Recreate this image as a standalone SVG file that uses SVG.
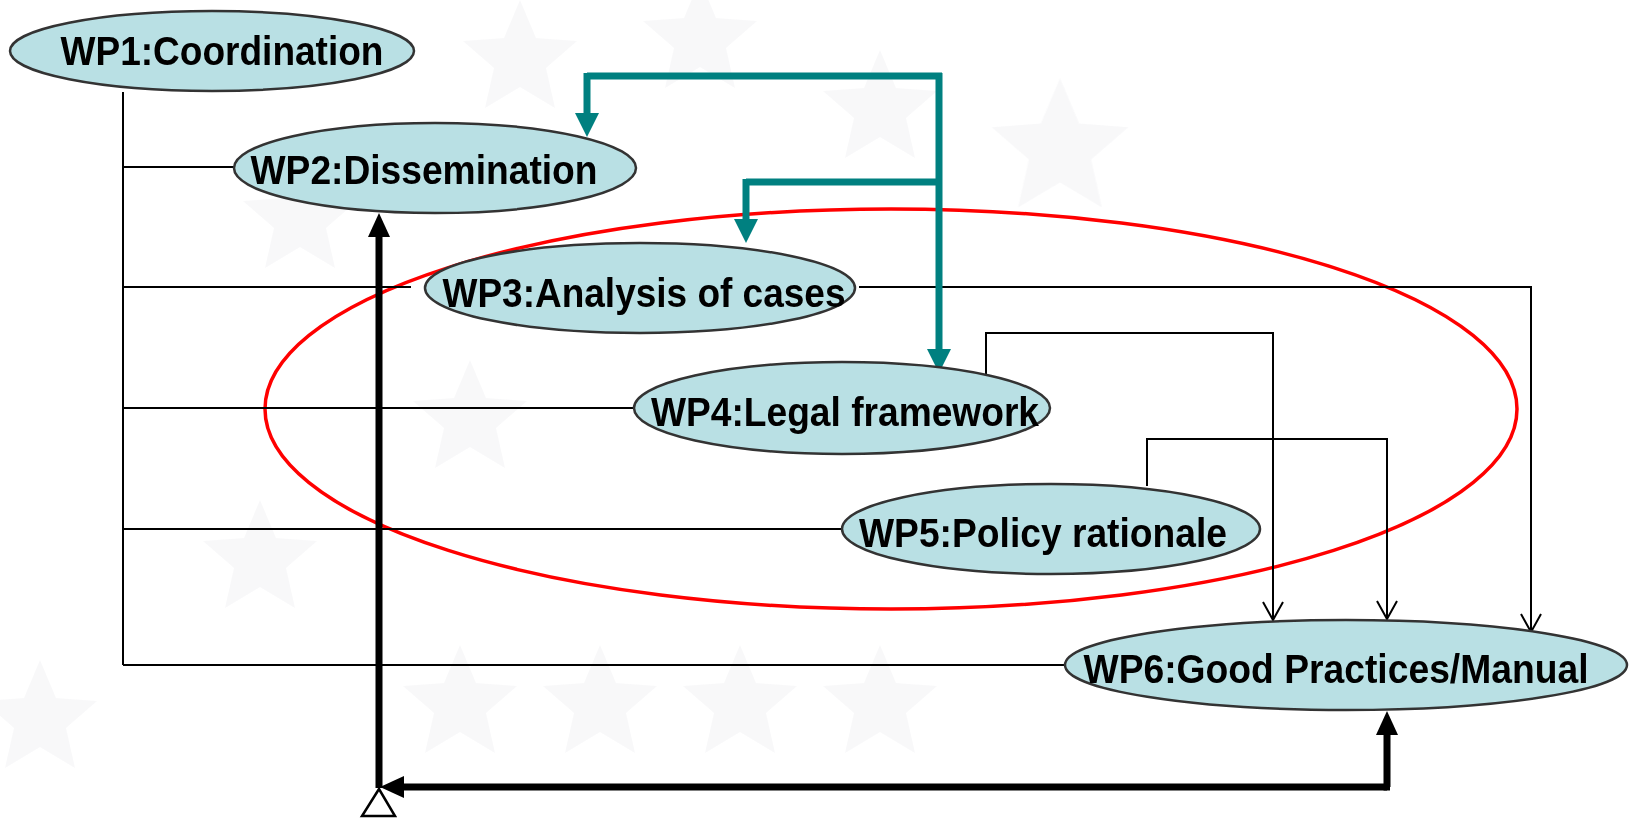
<svg xmlns="http://www.w3.org/2000/svg" width="1633" height="818" viewBox="0 0 1633 818">
  <style>
    .node ellipse { fill: #b9e0e4; stroke: #333333; stroke-width: 2.5; }
    .node text { font-family: "Liberation Sans", Arial, sans-serif; font-weight: bold; font-size: 40px; fill: #000000; text-anchor: middle; }
    .thin { fill: none; stroke: #000000; stroke-width: 2; }
    .thick { fill: none; stroke: #000000; stroke-width: 7; }
    .teal { fill: none; stroke: #008080; stroke-width: 7; }
    .star { fill: #f4f4f6; }
  </style>
  <defs>
    <marker id="openArrow" markerUnits="userSpaceOnUse" markerWidth="22" markerHeight="26" viewBox="-20 -13 22 26" refX="0" refY="0" orient="auto">
      <path d="M-18,-10 L0,0 L-18,10" fill="none" stroke="#000000" stroke-width="2"/>
    </marker>
    <marker id="blackArrow" markerUnits="userSpaceOnUse" markerWidth="26" markerHeight="26" viewBox="0 -13 26 26" refX="0" refY="0" orient="auto">
      <path d="M0,-11 L24,0 L0,11 z" fill="#000000"/>
    </marker>
    <marker id="tealArrow" markerUnits="userSpaceOnUse" markerWidth="26" markerHeight="28" viewBox="0 -14 26 28" refX="0" refY="0" orient="auto">
      <path d="M0,-12 L24,0 L0,12 z" fill="#008080"/>
    </marker>
    <path id="starShape" d="M0,-60 L16,-22 L57,-19 L26,8 L35,48 L0,27 L-35,48 L-26,8 L-57,-19 L-16,-22 z"/>
  </defs>

  <rect x="0" y="0" width="1633" height="818" fill="#ffffff"/>

  <g id="background" opacity="0.6">
    <use href="#starShape" class="star" transform="translate(520,60)"/>
    <use href="#starShape" class="star" transform="translate(700,40)"/>
    <use href="#starShape" class="star" transform="translate(880,110)"/>
    <use href="#starShape" class="star" transform="translate(1060,150) scale(1.2)"/>
    <use href="#starShape" class="star" transform="translate(300,220)"/>
    <use href="#starShape" class="star" transform="translate(470,420)"/>
    <use href="#starShape" class="star" transform="translate(260,560)"/>
    <use href="#starShape" class="star" transform="translate(460,705)"/>
    <use href="#starShape" class="star" transform="translate(600,705)"/>
    <use href="#starShape" class="star" transform="translate(740,705)"/>
    <use href="#starShape" class="star" transform="translate(880,705)"/>
    <use href="#starShape" class="star" transform="translate(40,720)"/>
  </g>

  <g id="region">
    <ellipse cx="891" cy="409" rx="626" ry="200" fill="none" stroke="#ff0000" stroke-width="3.5"/>
  </g>

  <g id="connectors">
    <path class="thin" d="M123,92 V665"/>
    <path class="thin" d="M123,167 H235"/>
    <path class="thin" d="M123,287 H411"/>
    <path class="thin" d="M123,408 H634"/>
    <path class="thin" d="M123,529 H842"/>
    <path class="thin" d="M123,665 H1064"/>
    <path class="thin" d="M859,287 H1531 V632" marker-end="url(#openArrow)"/>
    <path class="thin" d="M986,375 V333 H1273 V620" marker-end="url(#openArrow)"/>
    <path class="thin" d="M1147,486 V439 H1387 V619" marker-end="url(#openArrow)"/>

    <path class="thick" d="M379,788 V237" marker-end="url(#blackArrow)"/>
    <path class="thick" d="M1387,787 H404" marker-end="url(#blackArrow)"/>
    <path class="thick" d="M1390,787 H1387 V735" marker-end="url(#blackArrow)"/>
    <polygon points="379,789 362,816 395,816" fill="#ffffff" stroke="#000000" stroke-width="2.5"/>

    <path class="teal" d="M587,76 H942"/>
    <path class="teal" d="M939,73 V349" marker-end="url(#tealArrow)"/>
    <path class="teal" d="M587,73 V113" marker-end="url(#tealArrow)"/>
    <path class="teal" d="M746,182 H939"/>
    <path class="teal" d="M746,179 V219" marker-end="url(#tealArrow)"/>
  </g>

  <g id="WP1" class="node">
    <ellipse cx="212" cy="51" rx="202" ry="40"/>
    <text x="222" y="65" textLength="323" lengthAdjust="spacingAndGlyphs">WP1:Coordination</text>
  </g>
  <g id="WP2" class="node">
    <ellipse cx="435" cy="168" rx="201" ry="45"/>
    <text x="424" y="184" textLength="347" lengthAdjust="spacingAndGlyphs">WP2:Dissemination</text>
  </g>
  <g id="WP3" class="node">
    <ellipse cx="640" cy="288" rx="215" ry="45"/>
    <text x="644" y="307" textLength="403" lengthAdjust="spacingAndGlyphs">WP3:Analysis of cases</text>
  </g>
  <g id="WP4" class="node">
    <ellipse cx="842" cy="408" rx="208" ry="46"/>
    <text x="845" y="426" textLength="388" lengthAdjust="spacingAndGlyphs">WP4:Legal framework</text>
  </g>
  <g id="WP5" class="node">
    <ellipse cx="1051" cy="529" rx="209" ry="45"/>
    <text x="1043" y="547" textLength="368" lengthAdjust="spacingAndGlyphs">WP5:Policy rationale</text>
  </g>
  <g id="WP6" class="node">
    <ellipse cx="1346" cy="665" rx="281" ry="45"/>
    <text x="1336" y="683" textLength="505" lengthAdjust="spacingAndGlyphs">WP6:Good Practices/Manual</text>
  </g>
</svg>
